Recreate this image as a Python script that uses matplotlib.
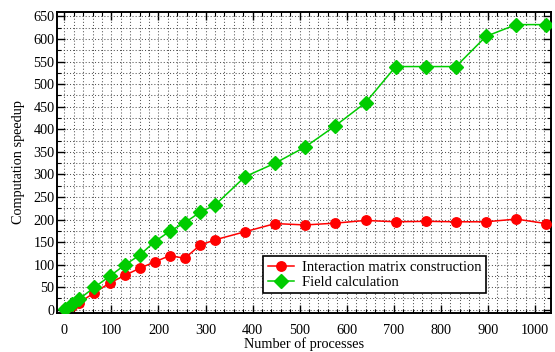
import matplotlib
matplotlib.use("Agg")
import matplotlib.pyplot as plt
from matplotlib.ticker import MultipleLocator

processes = [1, 16, 32, 64, 96, 128, 160, 192, 224, 256, 288, 320, 384, 448,
             512, 576, 640, 704, 768, 832, 896, 960, 1024]
interaction = [1, 8, 16, 38, 59, 76, 92, 106, 120, 114, 143, 155, 173, 191,
               188, 192, 198, 195, 196, 195, 195, 201, 191]
field = [1, 13, 24, 50, 74, 99, 121, 151, 174, 193, 216, 232, 295, 325,
         361, 408, 459, 539, 539, 539, 606, 632, 632]

plt.rcParams['font.family'] = ['Liberation Serif', 'DejaVu Serif']

fig = plt.figure(figsize=(5.55, 3.52), dpi=100)
ax = fig.add_axes([0.1032, 0.111, 0.8896, 0.855])

ax.plot(processes, interaction, color='#ff0000', lw=1.1, marker='o',
        markersize=6.8, label='Interaction matrix construction', zorder=3)
ax.plot(processes, field, color='#00cc00', lw=1.1, marker='D',
        markersize=7.5, label='Field calculation', zorder=4)

ax.set_xlim(-15, 1034)
ax.set_ylim(-7, 660)
ax.xaxis.set_major_locator(MultipleLocator(100))
ax.xaxis.set_minor_locator(MultipleLocator(20))
ax.yaxis.set_major_locator(MultipleLocator(50))
ax.yaxis.set_minor_locator(MultipleLocator(25))

ax.grid(which='both', color='#555555', linestyle=(0, (1, 2)), linewidth=0.75)
ax.tick_params(which='both', direction='in', top=True, right=True,
               labelsize=10.3, colors='black')
ax.tick_params(which='major', length=6, width=1.0)
ax.tick_params(which='minor', length=3, width=0.8)
ax.tick_params(axis='x', which='both', pad=8)
ax.tick_params(axis='y', which='both', pad=2)
for s in ax.spines.values():
    s.set_linewidth(1.4)

ax.set_xlabel('Number of processes', fontsize=10.3, labelpad=0)
ax.set_ylabel('Computation speedup', fontsize=10.3, labelpad=6)

leg = ax.legend(loc='lower right', bbox_to_anchor=(0.868, 0.066), fontsize=10.5,
                frameon=True, fancybox=False, edgecolor='black',
                framealpha=1, handlelength=1.8, borderpad=0.3,
                labelspacing=0.1, handletextpad=0.55, borderaxespad=0)
leg.get_frame().set_linewidth(1.2)

fig.savefig('out.png', dpi=100)
